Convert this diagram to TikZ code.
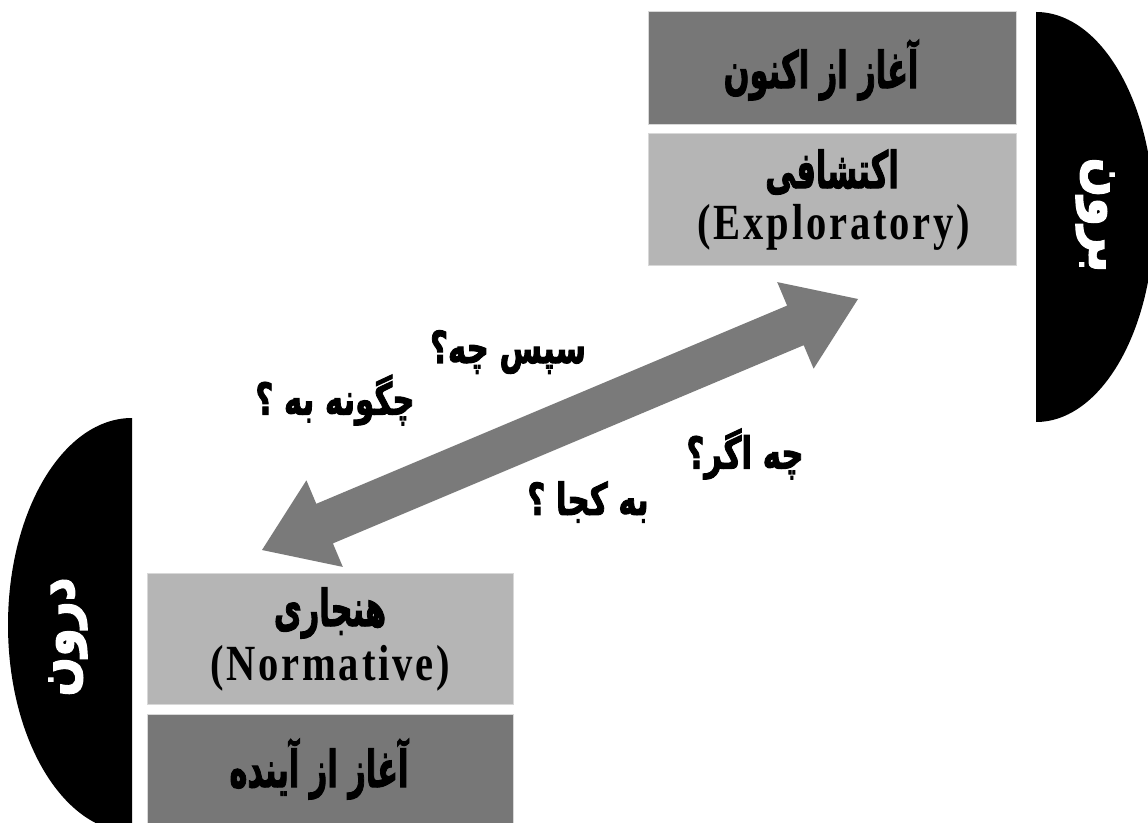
\documentclass[tikz,border=0pt]{standalone}
\usepackage{fontspec}
\TeXXeTstate=1
\newfontfamily\fa[Script=Arabic, BoldFeatures={FakeBold=2.5}]{DejaVu Sans}
\newfontfamily\lat[LetterSpace=7]{Liberation Serif}
\definecolor{darkbox}{HTML}{777777}
\definecolor{lightbox}{HTML}{B5B5B5}
\definecolor{arrowgray}{HTML}{7A7A7A}
\definecolor{edgegray}{HTML}{D8D8D8}
\tikzset{
  boxbase/.style={inner sep=0pt, draw=edgegray, line width=0.75pt},
  darkcell/.style={boxbase, fill=darkbox},
  lightcell/.style={boxbase, fill=lightbox},
  fatext/.style={font=\fa\bfseries\fontsize{38}{40}\selectfont, text=black, inner sep=0pt},
  entext/.style={font=\lat\bfseries\fontsize{38}{42}\selectfont, text=black, inner sep=0pt},
  qlabel/.style={font=\fa\bfseries\fontsize{33}{36}\selectfont, text=black, inner sep=0pt},
  sidelabel/.style={font=\fa\bfseries\fontsize{41}{44}\selectfont, text=white, inner sep=0pt}
}
\newcommand{\sq}[2]{\scalebox{#1}[1]{#2}}
\begin{document}
\begin{tikzpicture}[x=0.75pt,y=-0.75pt]
\useasboundingbox (0,0) rectangle (1148,823);
\fill[white] (0,0) rectangle (1148,823);
% side half-ellipses
\begin{scope}
  \clip (1036,0) rectangle (1148,823);
  \fill[black] (1036,217) ellipse [x radius=118, y radius=205];
\end{scope}
\begin{scope}
  \clip (0,0) rectangle (132,823);
  \fill[black] (132,625) ellipse [x radius=124, y radius=207];
\end{scope}
\node[sidelabel, rotate=-90] (outer) at (1095,215) {\sq{0.85}{\beginR برون\endR}};
\node[sidelabel, rotate=90] (inner) at (68,637) {\sq{0.85}{\beginR درون\endR}};
% boxes
\node[darkcell, minimum width=276pt, minimum height=84.75pt] (nowbox) at (832,68.5) {};
\node[lightcell, minimum width=276pt, minimum height=99pt] (expbox) at (832,200) {};
\node[lightcell, minimum width=274.5pt, minimum height=98.25pt] (normbox) at (330,638.5) {};
\node[darkcell, minimum width=274.5pt, minimum height=81.75pt] (futbox) at (330,768.5) {};
% box texts
\node[fatext] (nowtxt) at (821,70) {\sq{0.6}{\beginR آغاز از اکنون\endR}};
\node[fatext] (expfa) at (832,172) {\sq{0.6}{\beginR اکتشافی\endR}};
\node[entext] (expen) at (834,227) {\sq{0.8}{(Exploratory)}};
\node[fatext] (normfa) at (330,613) {\sq{0.6}{\beginR هنجاری\endR}};
\node[entext] (normen) at (330,668) {\sq{0.8}{(Normative)}};
\node[fatext] (futtxt) at (319,769) {\sq{0.6}{\beginR آغاز از آینده\endR}};
% double block arrow
\coordinate (tipB) at (858,299);
\coordinate (tipA) at (262,550);
\fill[arrowgray] (tipB) -- (813.6,368.7) -- (803.7,345.2) -- (332.9,543.4) -- (342.8,566.9)
  -- (tipA) -- (306.4,480.3) -- (316.3,503.8) -- (787.1,305.6) -- (777.2,282.1) -- cycle;
% question labels
\node[qlabel] (q1) at (508,352) {\sq{0.7}{\beginR سپس چه؟\endR}};
\node[qlabel] (q2) at (335,400) {\sq{0.7}{\beginR چگونه به ؟\endR}};
\node[qlabel] (q3) at (745,454) {\sq{0.7}{\beginR چه اگر؟\endR}};
\node[qlabel] (q4) at (588,502) {\sq{0.7}{\beginR به کجا ؟\endR}};
\end{tikzpicture}
\end{document}
